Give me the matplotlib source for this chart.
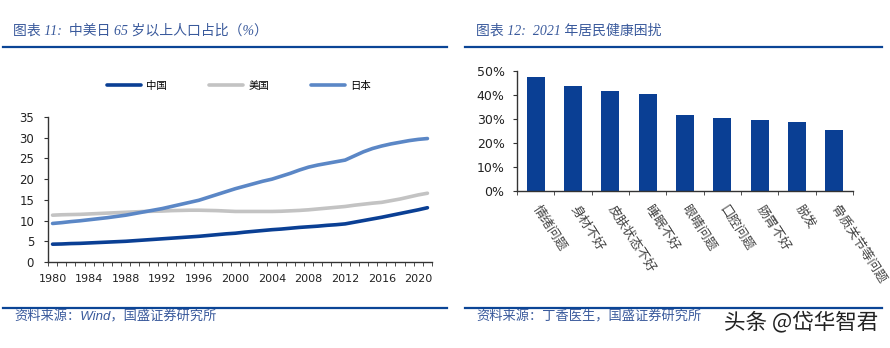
import numpy as np
import matplotlib
matplotlib.use('Agg')
from matplotlib import pyplot as plt
from matplotlib.lines import Line2D
from matplotlib.ticker import FuncFormatter

plt.rcParams['font.family'] = ['DejaVu Sans', 'Noto Sans CJK SC']

# 中美日 65 岁以上人口占比 (%), 1980-2021
years = np.arange(1980, 2022)
china = [4.3, 4.35, 4.45, 4.5, 4.6, 4.7, 4.8, 4.9, 5.0, 5.15,
         5.3, 5.45, 5.6, 5.75, 5.9, 6.05, 6.2, 6.4, 6.6, 6.8,
         6.95, 7.2, 7.4, 7.6, 7.8, 7.95, 8.15, 8.35, 8.5, 8.65,
         8.85, 9.0, 9.2, 9.6, 10.0, 10.4, 10.8, 11.25, 11.7, 12.15,
         12.6, 13.1]
usa = [11.3, 11.4, 11.45, 11.5, 11.6, 11.7, 11.8, 11.9, 12.0, 12.1,
       12.2, 12.25, 12.3, 12.4, 12.45, 12.5, 12.5, 12.45, 12.4, 12.3,
       12.2, 12.2, 12.2, 12.2, 12.2, 12.25, 12.35, 12.45, 12.6, 12.8,
       13.0, 13.2, 13.4, 13.7, 13.95, 14.2, 14.4, 14.8, 15.2, 15.7,
       16.2, 16.6]
japan = [9.3, 9.5, 9.75, 9.95, 10.2, 10.45, 10.7, 11.0, 11.3, 11.7,
         12.1, 12.5, 12.9, 13.4, 13.9, 14.4, 14.9, 15.6, 16.3, 17.0,
         17.7, 18.3, 18.9, 19.5, 20.0, 20.7, 21.4, 22.2, 22.9, 23.4,
         23.8, 24.2, 24.6, 25.6, 26.6, 27.4, 28.0, 28.5, 28.9, 29.3,
         29.6, 29.8]
series_names = ['中国', '美国', '日本']

# 2021 年居民健康困扰 (%)
issues = ['情绪问题', '身材不好', '皮肤状态不好', '睡眠不好', '眼睛问题',
          '口腔问题', '肠胃不好', '脱发', '骨质关节等问题']
issue_pct = [47.7, 43.7, 41.5, 40.5, 31.5, 30.6, 29.5, 28.6, 25.4]

navy = '#0A3F94'
grey = '#C3C3C3'
lightblue = '#5B87C6'
rule = '#0B4596'
title_c = '#3A5A9C'
axis_c = '#333333'

W, H = 890, 348
fig = plt.figure(figsize=(W / 100, H / 100), dpi=100)


def box(x0, y0, x1, y1):
    return [x0 / W, 1 - y1 / H, (x1 - x0) / W, (y1 - y0) / H]


def hline(x0, x1, y):
    fig.add_artist(Line2D([x0 / W, x1 / W], [1 - y / H, 1 - y / H],
                          transform=fig.transFigure, color=rule, lw=1.6))


# header / footer rules
for a, b in [(3, 447), (465, 882)]:
    hline(a, b, 46.5)
    hline(a, b, 307.5)

tfont = dict(family=['Liberation Serif', 'Noto Sans CJK SC'], style='italic',
             color=title_c, fontsize=10)
fig.text(13 / W, 1 - 31 / H, '图表 11:  中美日 65 岁以上人口占比（%）', va='center', **tfont)
fig.text(476 / W, 1 - 31 / H, '图表 12:  2021 年居民健康困扰', va='center', **tfont)

sfont = dict(family=['Liberation Sans', 'Noto Sans CJK SC'], style='italic',
             color=title_c, fontsize=9.5)
fig.text(14 / W, 1 - 317 / H, '资料来源：Wind，国盛证券研究所', va='center', **sfont)
fig.text(476 / W, 1 - 317 / H, '资料来源：丁香医生，国盛证券研究所', va='center', **sfont)

fig.text(878 / W, 1 - 322 / H, '头条 @岱华智君', ha='right', va='center',
         family=['Noto Sans CJK SC'], fontsize=15.5, color='#222222')

# left: line chart
ax1 = fig.add_axes(box(48, 117, 432, 262))
for vals, name, c in zip([china, usa, japan], series_names, [navy, grey, lightblue]):
    ax1.plot(years, vals, color=c, lw=2.6, label=name, solid_capstyle='round')
ax1.set_xlim(1979.5, 2021.5)
ax1.set_ylim(0, 35)
ax1.set_yticks(np.arange(0, 36, 5))
ax1.set_xticks(np.arange(1980, 2021, 4))
ax1.set_xticks(np.arange(1979.5, 2022, 1), minor=True)
ax1.tick_params(axis='x', which='major', length=0, pad=9, labelsize=8, colors='#222222')
ax1.tick_params(axis='x', which='minor', length=3, direction='out', color=axis_c)
ax1.tick_params(axis='y', length=3, direction='out', pad=7, labelsize=8.5,
                color=axis_c, labelcolor='#222222')
for s in ['top', 'right']:
    ax1.spines[s].set_visible(False)
for s in ['left', 'bottom']:
    ax1.spines[s].set_color(axis_c)
    ax1.spines[s].set_linewidth(1)

fig.legend(*ax1.get_legend_handles_labels(), loc='center', ncol=3,
           bbox_to_anchor=(239 / W, 1 - 86 / H), frameon=False,
           prop=dict(family='Noto Sans CJK SC', size=7.5),
           handlelength=3.3, handletextpad=0.5, columnspacing=4.0)

# right: bar chart
ax2 = fig.add_axes(box(517, 71, 853, 191))
pos = np.arange(len(issues))
ax2.bar(pos, np.array(issue_pct) / 100, width=0.49, color=navy)
ax2.set_xlim(-0.5, len(issues) - 0.5)
ax2.set_ylim(0, 0.5)
ax2.set_yticks(np.arange(0, 0.51, 0.1))
ax2.yaxis.set_major_formatter(FuncFormatter(lambda v, p: '%d%%' % round(v * 100)))
ax2.set_xticks(pos)
ax2.set_xticklabels(issues, rotation=-57, ha='left', va='center',
                    rotation_mode='anchor', family='Noto Sans CJK SC', fontsize=9.3)
ax2.set_xticks(np.arange(-0.5, len(issues), 1), minor=True)
ax2.tick_params(axis='x', which='major', length=0, pad=11, colors='#444444')
ax2.tick_params(axis='x', which='minor', length=3, direction='out', color=axis_c)
ax2.tick_params(axis='y', length=3, direction='out', pad=6, labelsize=9,
                color=axis_c, labelcolor='#222222')
for s in ['top', 'right']:
    ax2.spines[s].set_visible(False)
for s in ['left', 'bottom']:
    ax2.spines[s].set_color(axis_c)
    ax2.spines[s].set_linewidth(1)

fig.savefig('out.png', dpi=100)
